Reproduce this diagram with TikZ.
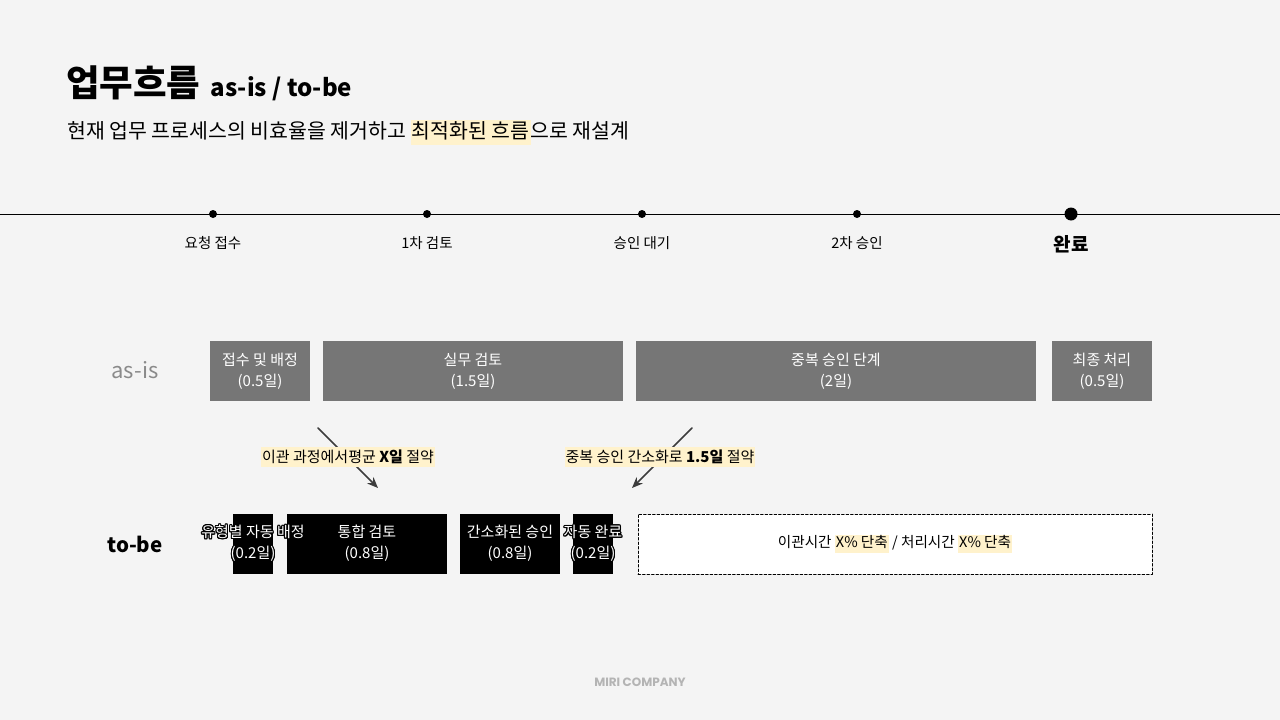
\documentclass[tikz,border=0pt]{standalone}
\usepackage{fontspec}
\setmainfont{Noto Sans CJK KR}
\newfontfamily\footfont{Poppins}
\usepackage[copies]{contour}
\contourlength{1.1pt}
\usetikzlibrary{arrows.meta}
\definecolor{bg}{HTML}{F4F4F4}
\definecolor{asisgray}{HTML}{767676}
\definecolor{labelgray}{HTML}{8A8A8A}
\definecolor{hlyellow}{HTML}{FFF2CC}
\definecolor{arrowgray}{HTML}{3C3C3C}
\definecolor{footgray}{HTML}{B4B4B4}
\newcommand{\hlt}[1]{{\setlength{\fboxsep}{1pt}\colorbox{hlyellow}{\strut #1}}}
\begin{document}
\begin{tikzpicture}[x=1pt,y=-1pt,>=Stealth,line join=round,line cap=round,
	asis/.style={fill=asisgray,text=white,minimum height=60,inner sep=0,align=center,font=\fontsize{15}{21}\selectfont},
	tobe/.style={fill=black,minimum height=60,inner sep=0},
	tobetext/.style={text=white,inner sep=0,align=center,font=\fontsize{15}{21}\selectfont},
	tick/.style={inner sep=0,font=\fontsize{14.5}{16}\selectfont},
	row/.style={inner sep=0,font=\fontsize{22}{22}\selectfont},
	saving/.style={fill=hlyellow,inner xsep=1pt,inner ysep=3pt,font=\fontsize{15}{17}\selectfont}]
	\useasboundingbox[fill=bg] (0,0) rectangle (1280,720);
	% title and lead
	\node[anchor=base west,inner sep=0,font=\bfseries\fontsize{36.5}{36}\selectfont] (title) at (66,96) {업무흐름};
	\node[anchor=base west,inner sep=0,font=\bfseries\fontsize{24}{24}\selectfont] (subtitle) at ([xshift=10]title.base east) {as-is / to-be};
	\node[anchor=base west,inner sep=0,font=\fontsize{20.5}{20}\selectfont] (lead) at (67,138) {현재 업무 프로세스의 비효율을 제거하고 \hlt{최적화된 흐름}으로 재설계};
	% timeline
	\path
	(0,214) coordinate (L)
	(1280,214) coordinate (R);
	\draw[line width=1pt] (L)--(R);
	\foreach \x/\n/\t in{213/s1/요청 접수,427/s2/1차 검토,642/s3/승인 대기,857/s4/2차 승인}
		{\fill (\x,214) coordinate (\n) circle(4);
		\node[tick] (\n-lab) at (\x,243) {\t};}
	\fill (1071,214) coordinate (s5) circle(6.5);
	\node[tick,font=\bfseries\fontsize{19}{19}\selectfont] (s5-lab) at (1071,244) {완료};
	% as-is
	\node[row,text=labelgray] (asis-lab) at (135,370) {as-is};
	\foreach \n/\c/\w/\t/\d in{a1/260/100/접수 및 배정/0.5일,a2/473/300/실무 검토/1.5일,a3/836/400/중복 승인 단계/2일,a4/1102/100/최종 처리/0.5일}
		\node[asis,minimum width=\w] (\n) at (\c,371) {\t\\(\d)};
	% savings
	\path
	(318,428) coordinate (p1)
	(378,488) coordinate (q1)
	(692,428) coordinate (p2)
	(632,488) coordinate (q2);
	\draw[-{Stealth[length=11pt,width=9pt]},arrowgray,line width=1.5pt] (p1)--(q1);
	\draw[-{Stealth[length=11pt,width=9pt]},arrowgray,line width=1.5pt] (p2)--(q2);
	\node[saving] (sv1) at (348,457) {이관 과정에서평균 \textbf{X일} 절약};
	\node[saving] (sv2) at (660,457) {중복 승인 간소화로 \textbf{1.5일} 절약};
	% to-be
	\node[row,font=\bfseries\fontsize{20.5}{20}\selectfont] (tobe-lab) at (135,544) {to-be};
	\foreach \n/\c/\w in{b1/253/40,b2/367/160,b3/510/100,b4/593/40}
		\node[tobe,minimum width=\w] (\n) at (\c,544) {};
	\foreach \n/\t/\d in{b1/유형별 자동 배정/0.2일,b2/통합 검토/0.8일,b3/간소화된 승인/0.8일,b4/자동 완료/0.2일}
		\node[tobetext] (\n-txt) at (\n) {\contour{black}{\t}\\\contour{black}{(\d)}};
	\node[draw,fill=white,line width=1pt,dash pattern=on 2.5pt off 2pt,minimum width=514,minimum height=60,font=\fontsize{14.6}{16}\selectfont] (gain) at (895,544) {이관시간 \hlt{X\% 단축} / 처리시간 \hlt{X\% 단축}};
	% footer
	\node[text=footgray,font=\footfont\bfseries\fontsize{12}{12}\selectfont] (brand) at (640,682) {MIRI COMPANY};
\end{tikzpicture}
\end{document}
